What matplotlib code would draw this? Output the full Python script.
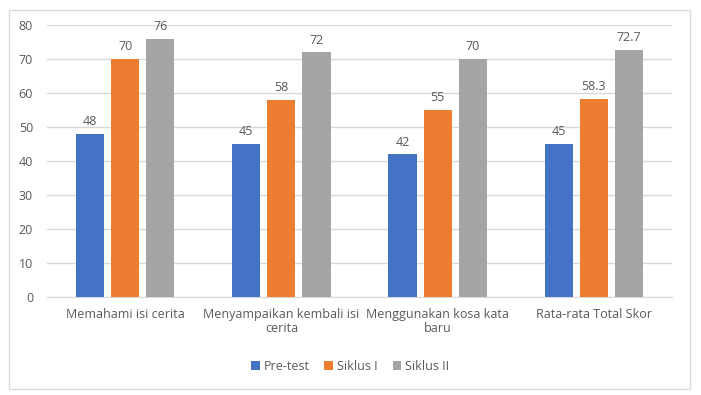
import numpy as np
import matplotlib.pyplot as plt
import matplotlib.patches as mpatches

categories = ['Memahami isi cerita', 'Menyampaikan kembali isi\ncerita',
              'Menggunakan kosa kata\nbaru', 'Rata-rata Total Skor']
pre_test = [48, 45, 42, 45]
siklus_1 = [70, 58, 55, 58.3]
siklus_2 = [76, 72, 70, 72.7]
series_names = ['Pre-test', 'Siklus I', 'Siklus II']
colors = ['#4472C4', '#ED7D31', '#A5A5A5']

plt.rcParams['font.family'] = ['Open Sans', 'DejaVu Sans']
txt = '#595959'

fig = plt.figure(figsize=(7.01, 3.95), dpi=100)
fig.patches.append(mpatches.Rectangle((9 / 701, 1 - 389 / 395), 681 / 701, 379 / 395,
                                      transform=fig.transFigure, fill=False,
                                      edgecolor='#d9d9d9', linewidth=1))
ax = fig.add_axes([47 / 701, 1 - 297 / 395, 625 / 701, 272 / 395])

x = np.arange(len(categories))
width = 0.18
step = 0.225
for i, (vals, name) in enumerate(zip([pre_test, siklus_1, siklus_2], series_names)):
    bars = ax.bar(x + (i - 1) * step, vals, width, color=colors[i], label=name, zorder=3)
    labels = [('%g' % v) for v in vals]
    ax.bar_label(bars, labels=labels, padding=4, fontsize=9, color=txt)

ax.set_xlim(-0.5, 3.5)
ax.set_ylim(0, 80)
ax.set_yticks(range(0, 81, 10))
ax.yaxis.grid(True, color='#d9d9d9', linewidth=1, zorder=0)
ax.set_xticks(x)
ax.set_xticklabels(categories, fontsize=9, color=txt, linespacing=1.1)
ax.tick_params(axis='y', length=0, labelsize=9, labelcolor=txt, pad=10)
ax.tick_params(axis='x', length=0, pad=8)
for s in ['top', 'right', 'left']:
    ax.spines[s].set_visible(False)
ax.spines['bottom'].set_color('#d9d9d9')

fig.legend(loc='center', bbox_to_anchor=(350 / 701, 1 - 366 / 395), ncol=3, frameon=False,
           fontsize=9, labelcolor=txt, handlelength=0.7, handleheight=0.7,
           handletextpad=0.3, columnspacing=1.2)

fig.savefig('out.png', dpi=100)
